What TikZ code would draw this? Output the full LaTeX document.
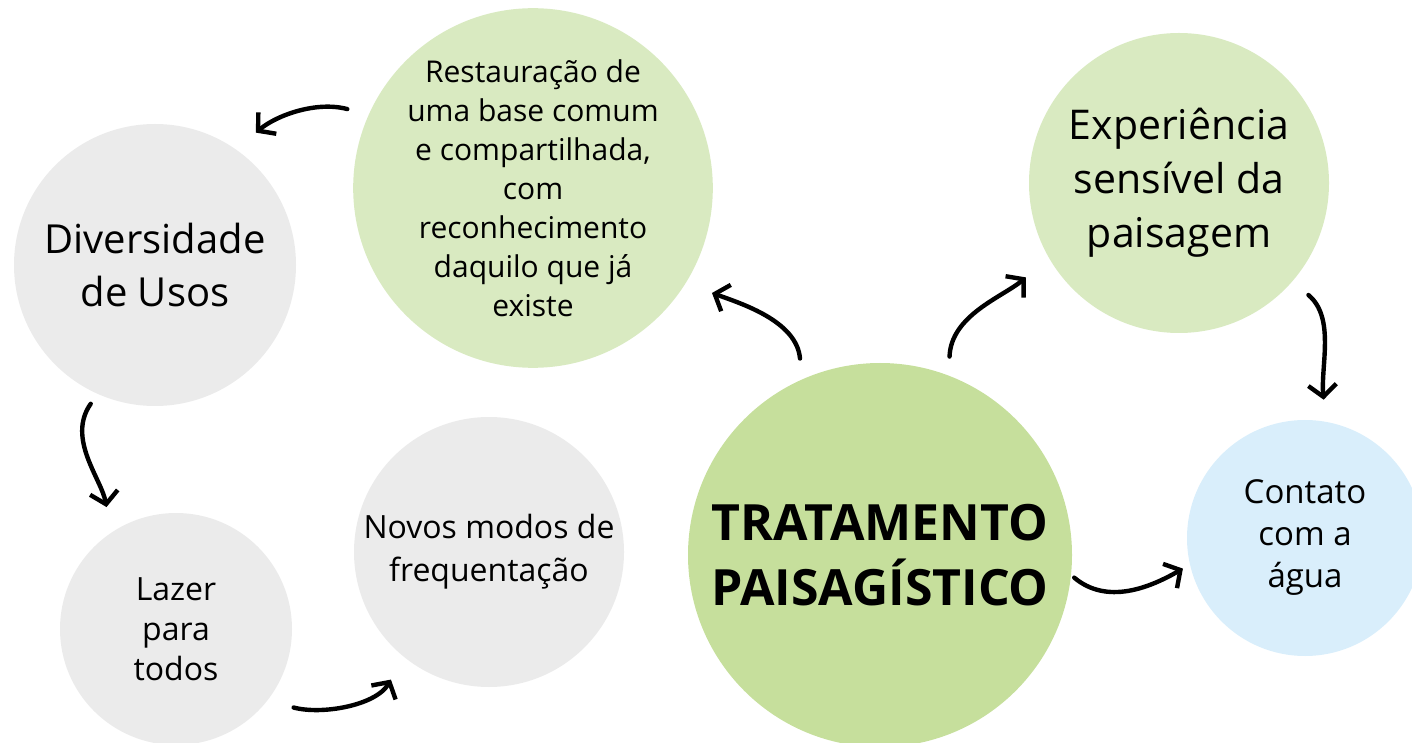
\documentclass[tikz,border=0pt]{standalone}
\usepackage{fontspec}
\setmainfont{Open Sans}
\usetikzlibrary{arrows.meta}
\definecolor{paleGreen}{HTML}{D9EAC1}
\definecolor{leafGreen}{HTML}{C6DF9C}
\definecolor{softGrey}{HTML}{EBEBEB}
\definecolor{waterBlue}{HTML}{D9EEFB}
\tikzset{
  bubble/.style={circle, inner sep=0pt, align=center},
  seta/.style={line width=4.4pt, line cap=round, -{Straight Barb[length=12pt,width=28pt]}},
}

\begin{document}
\begin{tikzpicture}[x=1pt,y=1pt]
\useasboundingbox (0,0) rectangle (1412,742);
\node (usos) [bubble, fill=softGrey, minimum size=282pt, font=\fontsize{40}{53}\selectfont] at (155,477) {Diversidade\\de Usos};
\node (restaur) [bubble, fill=paleGreen, minimum size=352pt, font=\fontsize{30}{39}\selectfont] at (533,554) {Restauração de\\uma base comum\\e compartilhada,\\com\\reconhecimento\\daquilo que já\\existe};
\node (exper) [bubble, fill=paleGreen, minimum size=300pt, font=\fontsize{41}{54}\selectfont] at (1179,559) {Experiência\\sensível da\\paisagem};
\node (lazer) [bubble, fill=softGrey, minimum size=232pt, font=\fontsize{32}{40}\selectfont] at (176,113) {Lazer\\para\\todos};
\node (novos) [bubble, fill=softGrey, minimum size=270pt, font=\fontsize{32}{43}\selectfont] at (489,190) {Novos modos de\\frequentação};
\node (trat) [bubble, fill=leafGreen, minimum size=384pt, font=\fontsize{50}{65}\selectfont\bfseries] at (880,187) {TRATAMENTO\\PAISAGÍSTICO};
\node (contato) [bubble, fill=waterBlue, minimum size=236pt, font=\fontsize{33}{42}\selectfont] at (1305,204) {Contato\\com a\\água};

\draw [seta, shorten <=22pt, shorten >=26pt] (restaur.156) to[out=165,in=40] (usos.55);
\draw [seta, shorten <=21pt, shorten >=28pt] (trat.114) to[out=95,in=-20] (restaur.-32);
\draw [seta, shorten <=19pt, shorten >=30pt] (trat.69) to[out=88,in=220] (exper.210);
\draw [seta, shorten <=21pt, shorten >=22pt] (exper.-41) to[out=-40,in=95] (contato.80);
\draw [seta, shorten <=4pt, shorten >=8pt] (trat.-6) to[out=-40,in=210] (contato.193);
\draw [seta, shorten <=12pt, shorten >=26pt] (usos.246) to[out=235,in=100] (lazer.124);
\draw [seta, shorten <=27pt, shorten >=26pt] (lazer.-38) to[out=-15,in=240] (novos.231);
\end{tikzpicture}
\end{document}
